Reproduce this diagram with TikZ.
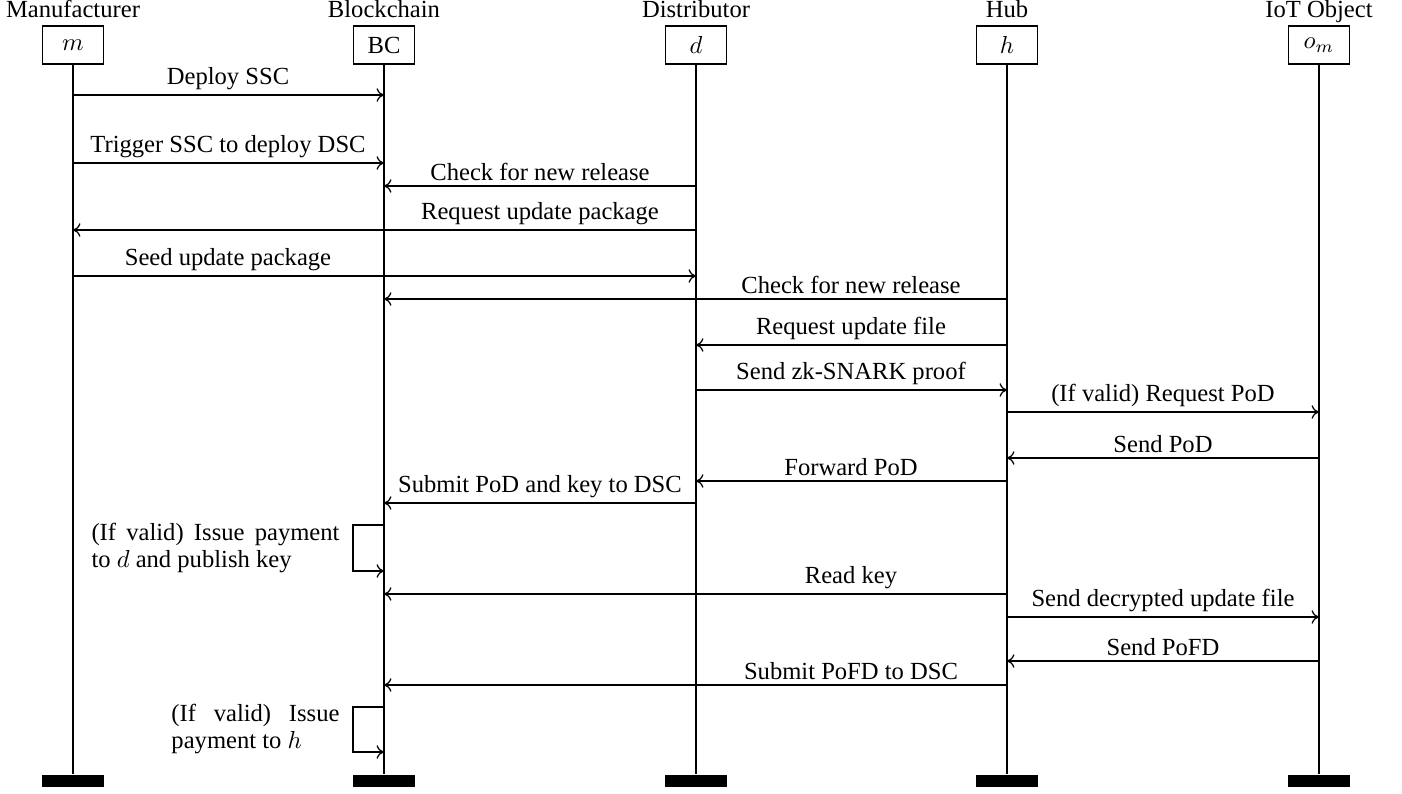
\documentclass[tikz,border=0pt]{standalone}
\usepackage{fontspec}
\setmainfont{Liberation Serif}
\usetikzlibrary{arrows.meta}
\newcommand{\seqmsg}[6]{%
  \draw[msgarrow] (#1 |- 0,#3) -- (#2 |- 0,#3);
  \node[msglabel] (#6) at (#4,#3) {#5};}
\begin{document}
\begin{tikzpicture}[x=0.4065pt, y=-0.4065pt,
  headbox/.style={draw, line width=0.5pt, minimum width=24.8pt, minimum height=15.4pt, inner sep=0pt},
  headlabel/.style={anchor=base, inner sep=0pt},
  endbar/.style={fill=black, minimum width=25.6pt, minimum height=4.9pt, inner sep=0pt},
  lifeline/.style={line width=0.85pt},
  msgarrow/.style={-{To[length=3pt,width=5.5pt]}, line width=0.5pt},
  msglabel/.style={anchor=south, inner sep=2pt},
  notetext/.style={anchor=east, inner sep=0pt, align=justify, font=\fontsize{10}{11}\selectfont}]
\useasboundingbox (0,0) rectangle (1402,793);

% heads
\node[headlabel] (mlab) at (73,17) {Manufacturer};
\node[headlabel] (bclab) at (384,17) {Blockchain};
\node[headlabel] (dlab) at (696,17) {Distributor};
\node[headlabel] (hlab) at (1007,17) {Hub};
\node[headlabel] (olab) at (1319,17) {IoT Object};

\node[headbox] (m) at (73,45) {$m$};
\node[headbox] (bc) at (384,45) {BC};
\node[headbox] (d) at (696,45) {$d$};
\node[headbox] (h) at (1007,45) {$h$};
\node[headbox] (o) at (1319,45) {$o_m$};

\node[endbar] (mend) at (73,781) {};
\node[endbar] (bcend) at (384,781) {};
\node[endbar] (dend) at (696,781) {};
\node[endbar] (hend) at (1007,781) {};
\node[endbar] (oend) at (1319,781) {};

\draw[lifeline] (m) -- (mend);
\draw[lifeline] (bc) -- (bcend);
\draw[lifeline] (d) -- (dend);
\draw[lifeline] (h) -- (hend);
\draw[lifeline] (o) -- (oend);

% messages
\seqmsg{m}{bc}{95}{228}{Deploy SSC}{l1}
\seqmsg{m}{bc}{163}{228}{Trigger SSC to deploy DSC}{l2}
\seqmsg{d}{bc}{186}{540}{Check for new release}{l3}
\seqmsg{d}{m}{230}{540}{Request update package}{l4}
\seqmsg{m}{d}{276}{228}{Seed update package}{l5}
\seqmsg{h}{bc}{299}{851}{Check for new release}{l6}
\seqmsg{h}{d}{345}{851}{Request update file}{l7}
\seqmsg{d}{h}{390}{851}{Send zk-SNARK proof}{l8}
\seqmsg{h}{o}{412}{1163}{(If valid) Request PoD}{l9}
\seqmsg{o}{h}{458}{1163}{Send PoD}{l10}
\seqmsg{h}{d}{481}{851}{Forward PoD}{l11}
\seqmsg{d}{bc}{503}{540}{Submit PoD and key to DSC}{l12}
\seqmsg{h}{bc}{594}{851}{Read key}{l13}
\seqmsg{h}{o}{617}{1163}{Send decrypted update file}{l14}
\seqmsg{o}{h}{661}{1163}{Send PoFD}{l15}
\seqmsg{h}{bc}{685}{851}{Submit PoFD to DSC}{l16}

% self messages
\draw[msgarrow] (bc |- 0,525) -- ++(-31,0) |- (bc |- 0,571);
\node[notetext, text width=100.8pt] (note1) at (340,548) {(If valid) Issue payment to $d$ and publish key};
\draw[msgarrow] (bc |- 0,707) -- ++(-31,0) |- (bc |- 0,752);
\node[notetext, text width=68.3pt] (note2) at (340,729) {(If valid) Issue payment to $h$};
\end{tikzpicture}
\end{document}
